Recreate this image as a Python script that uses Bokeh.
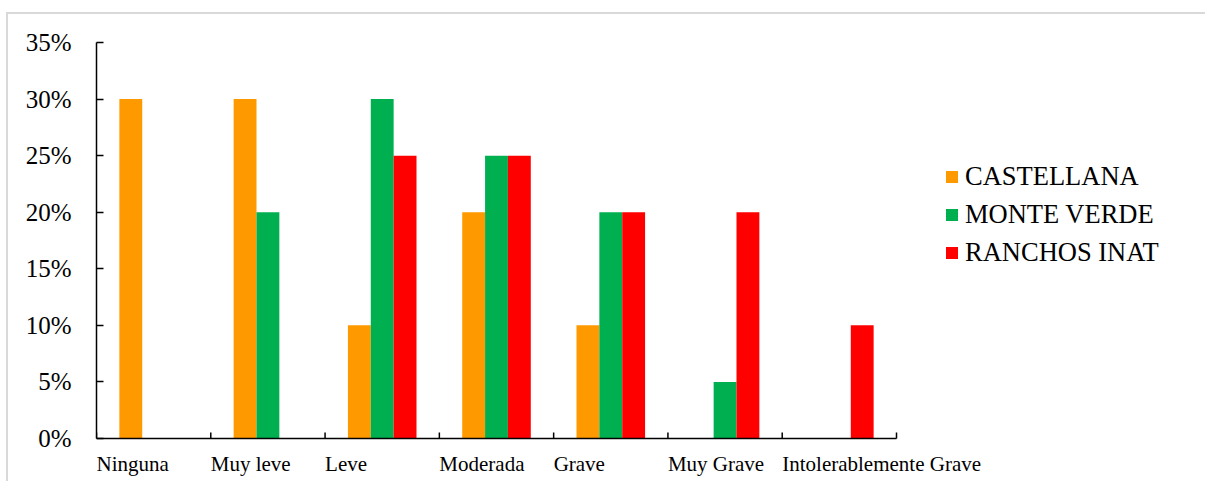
from bokeh.plotting import figure
from bokeh.models import ColumnDataSource, FixedTicker, Legend, LegendItem, Range1d
from bokeh.embed import file_html
from bokeh.resources import INLINE

categories = ["Ninguna", "Muy leve", "Leve", "Moderada", "Grave", "Muy Grave", "Intolerablemente Grave"]
series_names = ["CASTELLANA", "MONTE VERDE", "RANCHOS INAT"]
castellana = [30, 30, 10, 20, 10, 0, 0]
monte_verde = [0, 20, 30, 25, 20, 5, 0]
ranchos_inat = [0, 0, 25, 25, 20, 20, 10]
y_ticks = [0, 5, 10, 15, 20, 25, 30, 35]

colors = ["#FF9900", "#00B050", "#FF0000"]
series_values = [castellana, monte_verde, ranchos_inat]
FONT = "Liberation Serif"

# layout (pixels); the figure sits 6px/12px from the page corner with a 2px border
W, H = 1199, 469
LEFT, TOP = 88, 28
PLOT_W, PLOT_H = 800, 396          # size of the 0..n x 0..35 chart area
n = len(categories)
ymax = y_ticks[-1]
px_per_y = PLOT_H / ymax
px_per_x = PLOT_W / n
frame_w = W - LEFT
frame_h = H - TOP
x_end = frame_w / px_per_x
y_start = ymax - frame_h / px_per_y

p = figure(width=W, height=H, output_backend="svg", toolbar_location=None,
           x_range=Range1d(0, x_end), y_range=Range1d(y_start, ymax),
           min_border_left=LEFT, min_border_right=0, min_border_top=TOP, min_border_bottom=0)
p.margin = (12, 0, 0, 6)
p.styles = {"border-top": "2px solid #d9d9d9", "border-left": "2px solid #d9d9d9"}
p.xgrid.visible = False
p.ygrid.visible = False
p.xaxis.visible = False
p.outline_line_color = None
p.background_fill_color = "white"
p.border_fill_color = "white"

bar_w = 0.2
items = []
for k, (name, vals, col) in enumerate(zip(series_names, series_values, colors)):
    xs = [i + 0.5 + (k - 1) * bar_w for i in range(n)]
    src = ColumnDataSource(dict(x=xs, top=vals))
    r = p.vbar(x="x", top="top", bottom=0, width=bar_w, source=src,
               fill_color=col, line_color=None)
    items.append(LegendItem(label=name, renderers=[r]))

# x axis drawn at y = 0
tick_len = 6 / px_per_y
p.segment(x0=[0], y0=[0], x1=[n], y1=[0], line_color="black", line_width=1.5)
tick_x = list(range(n + 1))
p.segment(x0=tick_x, y0=[0] * len(tick_x), x1=tick_x, y1=[tick_len] * len(tick_x),
          line_color="black", line_width=1.5)
p.text(x=list(range(n)), y=[0] * n, text=categories, text_align="left",
       text_baseline="top", y_offset=13, text_font=FONT,
       text_font_size="21px", text_color="black")

# y axis
p.yaxis.bounds = (0, ymax)
p.yaxis.ticker = FixedTicker(ticks=y_ticks)
p.yaxis.major_label_overrides = {t: f"{t}%" for t in y_ticks}
p.yaxis.major_label_text_font = FONT
p.yaxis.major_label_text_font_size = "25px"
p.yaxis.major_label_text_color = "black"
p.yaxis.major_label_standoff = 25
p.yaxis.major_tick_in = 7
p.yaxis.major_tick_out = 0
p.yaxis.minor_tick_line_color = None
p.yaxis.axis_line_color = "black"
p.yaxis.axis_line_width = 1.5
p.yaxis.major_tick_line_color = "black"
p.yaxis.major_tick_line_width = 1.5

legend = Legend(items=items, location=(848, 215), orientation="vertical",
                border_line_color=None, background_fill_alpha=0,
                label_text_font=FONT, label_text_font_size="26.5px",
                label_text_color="black",
                glyph_width=15, glyph_height=15, label_height=30, spacing=7,
                padding=0, margin=0, label_standoff=6)
p.add_layout(legend, "center")

open("out.html", "w").write(file_html(p, INLINE))
